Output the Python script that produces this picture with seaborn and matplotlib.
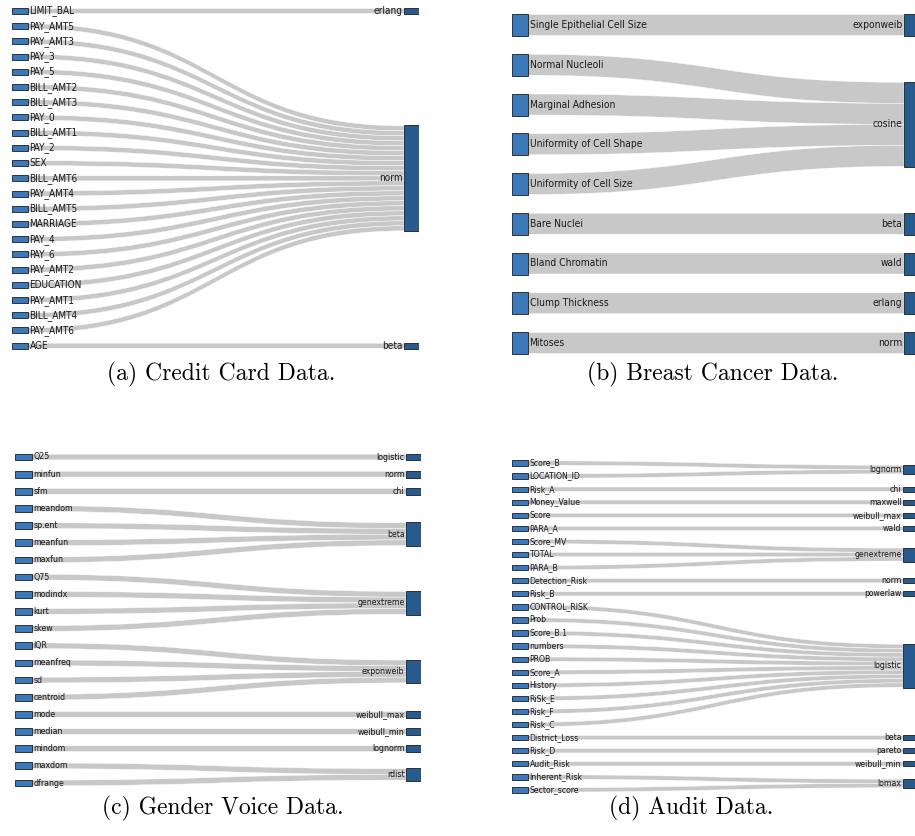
import numpy as np
import matplotlib
matplotlib.use('Agg')
import matplotlib.pyplot as plt
from matplotlib import font_manager
from matplotlib.path import Path
from matplotlib.patches import PathPatch, Rectangle
import seaborn as sns

# ---- data: feature -> best fitting distribution ----
credit_sources = ['LIMIT_BAL', 'PAY_AMT5', 'PAY_AMT3', 'PAY_3', 'PAY_5', 'BILL_AMT2', 'BILL_AMT3',
                  'PAY_0', 'BILL_AMT1', 'PAY_2', 'SEX', 'BILL_AMT6', 'PAY_AMT4', 'BILL_AMT5',
                  'MARRIAGE', 'PAY_4', 'PAY_6', 'PAY_AMT2', 'EDUCATION', 'PAY_AMT1', 'BILL_AMT4',
                  'PAY_AMT6', 'AGE']
credit_targets = ['erlang'] + ['norm'] * 21 + ['beta']

cancer_sources = ['Single Epithelial Cell Size', 'Normal Nucleoli', 'Marginal Adhesion',
                  'Uniformity of Cell Shape', 'Uniformity of Cell Size', 'Bare Nuclei',
                  'Bland Chromatin', 'Clump Thickness', 'Mitoses']
cancer_targets = ['exponweib', 'cosine', 'cosine', 'cosine', 'cosine', 'beta', 'wald', 'erlang', 'norm']

voice_sources = ['Q25', 'minfun', 'sfm', 'meandom', 'sp.ent', 'meanfun', 'maxfun', 'Q75', 'modindx',
                 'kurt', 'skew', 'IQR', 'meanfreq', 'sd', 'centroid', 'mode', 'median', 'mindom',
                 'maxdom', 'dfrange']
voice_targets = ['logistic', 'norm', 'chi'] + ['beta'] * 4 + ['genextreme'] * 4 + ['exponweib'] * 4 + \
                ['weibull_max', 'weibull_min', 'lognorm', 'rdist', 'rdist']

audit_sources = ['Score_B', 'LOCATION_ID', 'Risk_A', 'Money_Value', 'Score', 'PARA_A', 'Score_MV',
                 'TOTAL', 'PARA_B', 'Detection_Risk', 'Risk_B', 'CONTROL_RISK', 'Prob', 'Score_B.1',
                 'numbers', 'PROB', 'Score_A', 'History', 'RiSk_E', 'Risk_F', 'Risk_C',
                 'District_Loss', 'Risk_D', 'Audit_Risk', 'Inherent_Risk', 'Sector_score']
audit_targets = ['lognorm', 'lognorm', 'chi', 'maxwell', 'weibull_max', 'wald'] + ['genextreme'] * 3 + \
                ['norm', 'powerlaw'] + ['logistic'] * 10 + ['beta', 'pareto', 'weibull_min', 'lomax', 'lomax']

captions = ['(a) Credit Card Data.', '(b) Breast Cancer Data.', '(c) Gender Voice Data.', '(d) Audit Data.']

W, H = 915, 836
sns.set_theme(style='white')
plt.rcParams['font.family'] = ['DejaVu Sans']


# look for a narrow sans font, the labels in the original are squeezed
def find_narrow():
    files = [f.fname for f in font_manager.fontManager.ttflist]
    for key in ['LiberationSansNarrow-Regular', 'NotoSans-ExtraCondensed.', 'NotoSans-Condensed.',
                'DejaVuSansCondensed.', 'Roboto_Condensed', 'RobotoCondensed-Regular',
                'NotoSans-SemiCondensed.']:
        for f in files:
            if key.lower() in f.lower():
                return f
    return None


narrow_file = find_narrow()
if narrow_file:
    label_font = font_manager.FontProperties(fname=narrow_file)
    scale = 1.0
else:
    label_font = font_manager.FontProperties(family='DejaVu Sans')
    scale = 0.85

src_color = '#3b79ba'
tgt_color = '#285b8d'
link_color = '#c8c8c8'

fig = plt.figure(figsize=(W / 100, H / 100), dpi=100)


def add_panel(x0, x1, y_first, y_last, n):
    spacing = (y_last - y_first) / (n - 1)
    top = y_first - spacing / 2
    bottom = y_last + spacing / 2
    ax = fig.add_axes([x0 / W, 1 - bottom / H, (x1 - x0) / W, (bottom - top) / H])
    ax.set_xlim(0, x1 - x0)
    ax.set_ylim(n - 0.5, -0.5)
    ax.axis('off')
    return ax, spacing


def link(ax, xa, xb, y0, y1, t):
    xm = (xa + xb) / 2
    verts = [(xa, y0), (xm, y0), (xm, y1), (xb, y1), (xb, y1 + t),
             (xm, y1 + t), (xm, y0 + t), (xa, y0 + t), (xa, y0)]
    codes = [Path.MOVETO, Path.CURVE4, Path.CURVE4, Path.CURVE4, Path.LINETO,
             Path.CURVE4, Path.CURVE4, Path.CURVE4, Path.CLOSEPOLY]
    ax.add_patch(PathPatch(Path(verts, codes), fc=link_color, ec='white', lw=0.3, zorder=1))


def sankey(ax, spacing, sources, targets, width, sw, tw, thick_px, fs):
    fp = label_font.copy()
    fp.set_size(fs * scale)
    t = thick_px / spacing
    nh = (thick_px + 1) / spacing
    for name in dict.fromkeys(targets):
        idx = [i for i, tt in enumerate(targets) if tt == name]
        c = np.mean(idx)
        h = t * len(idx)
        top = c - h / 2
        for k, i in enumerate(idx):
            link(ax, sw, width - tw, i - t / 2, top + k * t, t)
        ax.add_patch(Rectangle((width - tw, c - (h + 1 / spacing) / 2), tw, h + 1 / spacing,
                               fc=tgt_color, ec='#1c1c1c', lw=0.6, zorder=3))
        ax.text(width - tw - 1.5, c, name, ha='right', va='center', fontproperties=fp,
                color='#1a1a1a', zorder=4)
    for i, s in enumerate(sources):
        ax.add_patch(Rectangle((0, i - nh / 2), sw, nh, fc=src_color, ec='#1c1c1c', lw=0.6, zorder=3))
        ax.text(sw + 1.5, i, s, ha='left', va='center', fontproperties=fp, color='#1a1a1a', zorder=4)


ax, sp = add_panel(12, 419, 11, 345.7, len(credit_sources))
sankey(ax, sp, credit_sources, credit_targets, 407, 16, 15, 5, 7.2)

ax, sp = add_panel(512, 915, 25, 343, len(cancer_sources))
sankey(ax, sp, cancer_sources, cancer_targets, 403, 16, 11, 21, 7.4)

ax, sp = add_panel(15, 421, 457, 783, len(voice_sources))
sankey(ax, sp, voice_sources, voice_targets, 406, 17, 15, 5.7, 6.3)

ax, sp = add_panel(512, 915, 463, 790, len(audit_sources))
sankey(ax, sp, audit_sources, audit_targets, 403, 16, 12, 4.3, 6.2)

for (cx, cy), cap in zip([(221, 374), (713, 374), (223, 808), (691, 808)], captions):
    fig.text(cx / W, 1 - cy / H, cap, family='cmr10', fontsize=17, ha='center', va='center', color='black')

fig.savefig('out.png', dpi=100)
